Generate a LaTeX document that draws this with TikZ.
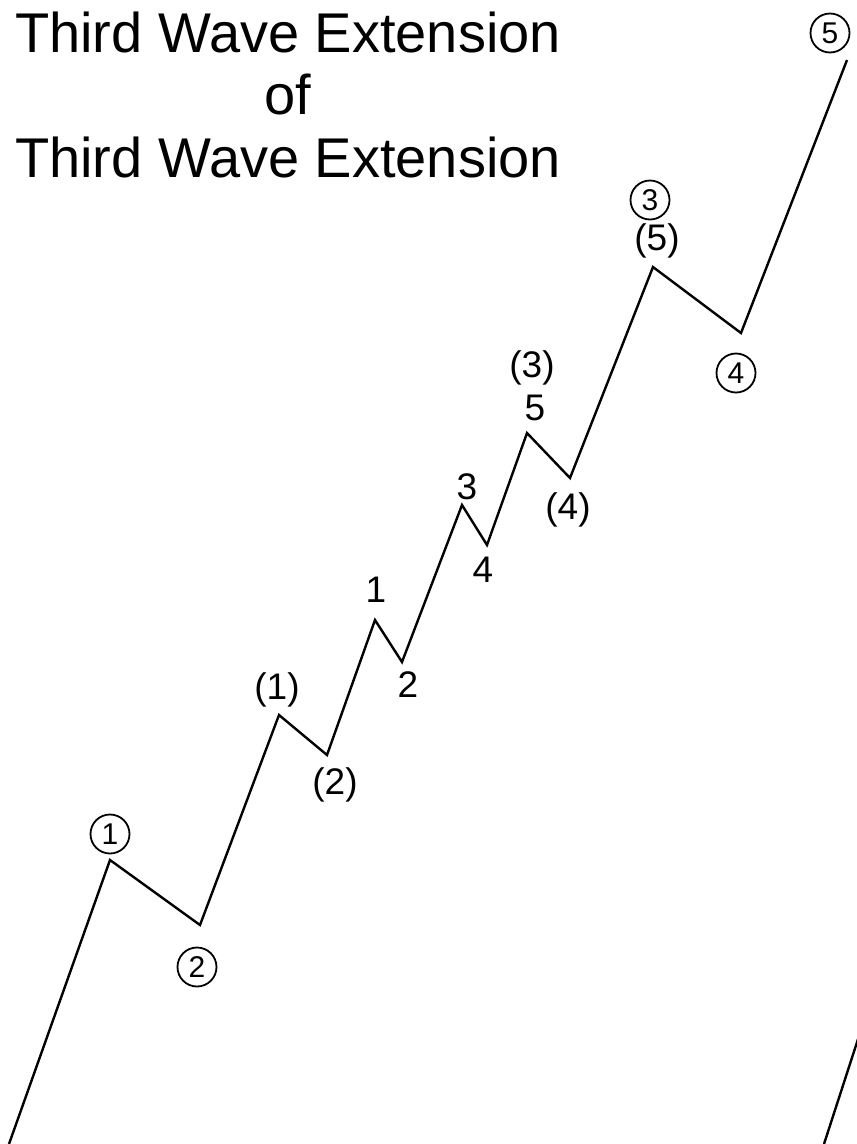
\documentclass[tikz,border=0pt]{standalone}
\usepackage{fontspec}
\setmainfont{Liberation Sans}
\usetikzlibrary{positioning}

\begin{document}
\begin{tikzpicture}[
    x=1pt, y=-1pt,
    wave/.style={line width=2.4pt, line join=miter, black},
    heading/.style={font=\fontsize{56}{62}\selectfont, anchor=base, inner sep=0pt},
    lbl/.style={font=\fontsize{37}{40}\selectfont, inner sep=0pt},
    circled/.style={draw, circle, line width=1.8pt, minimum size=39pt, inner sep=0pt,
                    font=\fontsize{30}{32}\selectfont},
]

\useasboundingbox (0,0) rectangle (857,1144);

% Title
\node[heading] (t1) at (288,52) {Third Wave Extension};
\node[heading] (t2) at (288,114) {of};
\node[heading] (t3) at (288,177) {Third Wave Extension};

% Wave turning points
\coordinate (w0) at (9,1144);
\coordinate (p1) at (110,860);
\coordinate (p2) at (200,925);
\coordinate (q1) at (279,715);
\coordinate (q2) at (327,755);
\coordinate (s1) at (375,620);
\coordinate (s2) at (402,662);
\coordinate (s3) at (462,505);
\coordinate (s4) at (487,545);
\coordinate (s5) at (527,433);
\coordinate (q4) at (570,478);
\coordinate (p3) at (653,267);
\coordinate (p4) at (741,333);
\coordinate (p5) at (847,60);

\draw[wave] (w0) -- (p1) -- (p2) -- (q1) -- (q2) -- (s1) -- (s2) -- (s3)
  -- (s4) -- (s5) -- (q4) -- (p3) -- (p4) -- (p5);

% Next wave, cut by the frame
\begin{scope}
  \clip (0,0) rectangle (857,1144);
  \coordinate (n0) at (824,1144);
  \coordinate (n1) at (860,1033);
  \draw[wave] (n0) -- (n1);
\end{scope}

% Circled: primary degree
\node[circled] (c1) at (110,834) {1};
\node[circled] (c2) at (197,967) {2};
\node[circled] (c3) at (650,200) {3};
\node[circled] (c4) at (736,373) {4};
\node[circled] (c5) at (830,33) {5};

% Parenthesised: intermediate degree
\node[lbl] (b1) at (277,690) {(1)};
\node[lbl] (b2) at (335,785) {(2)};
\node[lbl] (b3) at (532,368) {(3)};
\node[lbl] (b4) at (568,510) {(4)};
\node[lbl] (b5) at (657,241) {(5)};

% Plain: minor degree
\node[lbl] (m1) at (376,590) {1};
\node[lbl] (m2) at (408,685) {2};
\node[lbl] (m3) at (467,487) {3};
\node[lbl] (m4) at (483,570) {4};
\node[lbl] (m5) at (535,408) {5};

\end{tikzpicture}
\end{document}
